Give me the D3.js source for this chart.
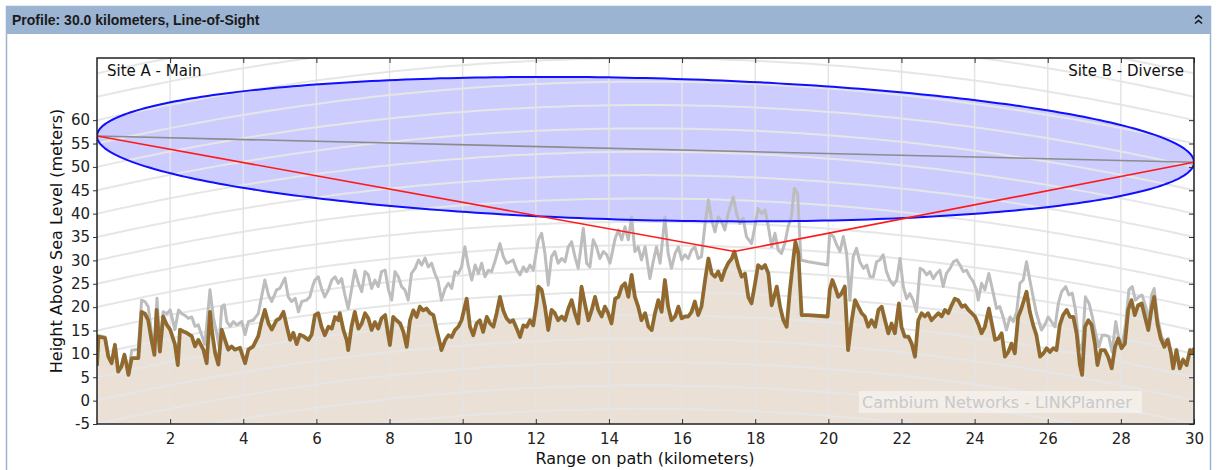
<!DOCTYPE html>
<html>
<head>
<meta charset="utf-8">
<script src="https://cdn.jsdelivr.net/npm/d3@7"></script>
<style>
  body { margin: 0; background: #fff; }
  svg { display: block; font-family: "DejaVu Sans", sans-serif; }
</style>
</head>
<body>
<svg id="chart" width="1221" height="470"></svg>
<script>
// ---- Link and profile data ----
const panelTitle = "Profile: 30.0 kilometers, Line-of-Sight";
const siteNames = ["Site A - Main", "Site B - Diverse"];
const axisTitles = { x: "Range on path (kilometers)", y: "Height Above Sea Level (meters)" };
const watermarkText = "Cambium Networks - LINKPlanner";

const pathLengthKm = 30;
const xTickValues = [2, 4, 6, 8, 10, 12, 14, 16, 18, 20, 22, 24, 26, 28, 30];
const yTickValues = [-5, 0, 5, 10, 15, 20, 25, 30, 35, 40, 45, 50, 55, 60];

// antenna heights (m) at each end and the worst-case obstruction point [km, m]
const antennaHeights = [56.6, 51.0];
const obstructionPoint = [17.43, 31.9];
// first Fresnel zone radius at mid-path (m)
const fresnelMidRadius = 15.2;
// effective earth radius factor and earth radius (km)
const kFactor = 4 / 3;
const earthRadiusKm = 6371;

// terrain profile [km, m]
const terrain = [
  [0,7.5],[0.04,13.7],[0.22,13.4],[0.31,9.4],[0.40,8.0],[0.49,11.9],[0.58,6.2],[0.67,7.3],[0.75,9.8],[0.81,7.6],
  [0.86,5.5],[0.95,9.1],[1.13,9.1],[1.22,19.0],[1.31,18.6],[1.40,17.2],[1.49,13.0],[1.57,9.8],[1.63,19.4],[1.72,10.5],
  [1.81,18.0],[1.91,16.2],[2.00,15.2],[2.13,12.1],[2.21,7.6],[2.27,15.2],[2.36,14.8],[2.45,14.5],[2.59,13.8],[2.68,11.6],
  [2.77,13.0],[2.91,10.9],[3.00,8.0],[3.09,19.0],[3.15,14.5],[3.23,10.2],[3.32,7.7],[3.41,15.2],[3.50,13.0],[3.59,10.9],
  [3.68,11.6],[3.77,10.9],[3.91,11.3],[4.05,8.0],[4.14,10.9],[4.27,11.6],[4.41,13.8],[4.50,16.9],[4.59,19.4],[4.69,16.5],
  [4.78,15.2],[4.91,17.2],[5.00,17.6],[5.10,19.0],[5.19,15.9],[5.28,13.0],[5.37,14.5],[5.46,12.1],[5.55,14.1],[5.64,13.8],
  [5.78,13.0],[5.87,14.1],[5.96,18.3],[6.05,18.7],[6.14,15.8],[6.23,14.0],[6.33,15.8],[6.42,15.4],[6.51,17.9],[6.60,17.2],
  [6.64,18.7],[6.74,15.1],[6.83,12.9],[6.87,10.8],[6.96,15.8],[7.05,19.0],[7.15,15.4],[7.24,16.5],[7.33,18.7],[7.42,17.6],
  [7.51,15.1],[7.60,16.8],[7.69,15.4],[7.78,17.6],[7.88,18.3],[7.95,14.7],[8.01,11.9],[8.10,17.9],[8.19,17.2],[8.29,16.5],
  [8.38,14.7],[8.47,11.5],[8.56,17.2],[8.65,19.3],[8.74,17.9],[8.83,20.1],[8.92,19.3],[9.01,19.7],[9.11,18.7],[9.20,18.3],
  [9.29,15.1],[9.38,12.2],[9.42,10.8],[9.52,12.9],[9.61,14.0],[9.70,13.6],[9.79,15.1],[9.88,15.8],[9.97,17.2],[10.11,21.8],
  [10.20,15.8],[10.29,14.0],[10.38,16.5],[10.47,17.2],[10.56,14.7],[10.66,17.9],[10.75,16.5],[10.84,15.8],[10.93,18.7],[11.02,22.2],
  [11.11,19.3],[11.20,17.6],[11.29,16.8],[11.38,17.2],[11.48,15.4],[11.57,13.6],[11.66,16.1],[11.75,15.8],[11.84,17.2],[11.93,16.1],
  [12.02,20.8],[12.07,24.4],[12.16,23.7],[12.25,20.1],[12.34,15.1],[12.43,19.4],[12.52,18.7],[12.61,17.2],[12.71,18.0],[12.80,17.2],
  [12.89,19.7],[12.98,21.5],[13.07,18.7],[13.16,16.5],[13.25,24.4],[13.34,20.8],[13.44,17.2],[13.53,19.4],[13.62,22.2],[13.71,19.4],
  [13.80,18.0],[13.89,20.1],[13.98,18.7],[14.07,16.5],[14.17,21.8],[14.26,22.2],[14.35,24.4],[14.44,25.1],[14.53,22.2],[14.62,26.9],
  [14.71,22.2],[14.80,20.1],[14.89,17.2],[14.99,18.7],[15.08,15.8],[15.17,15.1],[15.26,18.7],[15.35,21.5],[15.44,19.0],[15.53,25.8],
  [15.62,20.1],[15.71,17.2],[15.81,18.0],[15.90,20.1],[15.99,17.6],[16.08,18.0],[16.17,18.0],[16.26,19.0],[16.35,21.2],[16.44,18.3],
  [16.53,20.1],[16.63,25.8],[16.72,30.4],[16.81,27.2],[16.90,26.5],[16.99,27.6],[17.08,25.8],[17.17,27.9],[17.26,29.4],[17.36,30.4],
  [17.43,31.9],[17.54,28.6],[17.63,26.5],[17.72,27.2],[17.81,22.2],[17.90,20.8],[17.99,24.8],[18.08,29.0],[18.18,28.3],[18.27,29.0],
  [18.36,27.2],[18.45,20.4],[18.54,22.9],[18.59,24.4],[18.68,20.1],[18.77,17.2],[18.86,15.8],[18.95,23.7],[19.04,30.1],[19.10,34.0],
  [19.18,31.5],[19.27,18.3],[19.45,18.3],[19.98,18.0],[20.04,23.7],[20.11,25.8],[20.18,24.4],[20.27,22.2],[20.36,22.9],[20.45,24.4],
  [20.54,10.8],[20.64,17.2],[20.73,21.5],[20.82,20.1],[20.91,18.7],[21.00,18.0],[21.09,15.8],[21.18,17.2],[21.28,15.8],[21.37,19.4],
  [21.46,20.1],[21.55,17.2],[21.64,14.4],[21.73,16.5],[21.82,14.4],[21.93,20.8],[22.00,15.8],[22.09,13.7],[22.19,13.7],[22.28,12.2],
  [22.37,9.4],[22.46,17.2],[22.55,18.7],[22.64,18.0],[22.73,18.7],[22.82,17.2],[22.92,18.0],[23.01,18.7],[23.10,18.0],[23.19,19.4],
  [23.28,18.7],[23.37,20.4],[23.46,21.8],[23.55,21.5],[23.65,20.1],[23.74,20.4],[23.83,19.4],[23.92,18.7],[24.01,18.0],[24.10,16.4],
  [24.19,14.4],[24.28,15.8],[24.39,19.7],[24.46,16.9],[24.56,13.0],[24.65,13.3],[24.74,14.4],[24.83,9.4],[24.92,10.4],[25.01,12.2],
  [25.10,10.1],[25.19,17.9],[25.28,19.7],[25.42,23.3],[25.51,19.0],[25.60,16.2],[25.69,14.0],[25.79,9.4],[25.88,10.1],[25.97,11.2],
  [26.06,10.4],[26.15,11.2],[26.24,10.8],[26.33,16.2],[26.42,18.3],[26.52,19.4],[26.61,17.9],[26.70,17.9],[26.79,14.4],[26.88,7.6],
  [26.94,5.5],[27.02,15.8],[27.11,17.2],[27.20,16.2],[27.29,12.2],[27.36,7.6],[27.45,10.8],[27.56,10.8],[27.65,9.4],[27.75,6.9],
  [27.84,11.5],[27.93,13.3],[28.02,11.2],[28.11,12.2],[28.20,19.4],[28.29,21.5],[28.38,18.3],[28.47,20.4],[28.57,20.8],[28.66,17.9],
  [28.75,15.1],[28.84,19.7],[28.91,22.2],[29.00,16.5],[29.09,13.3],[29.19,11.5],[29.28,13.0],[29.37,10.1],[29.43,6.9],[29.52,10.8],
  [29.61,6.9],[29.70,8.7],[29.80,7.6],[29.89,10.8],[29.98,10.1],[30.00,11.2]
];

// terrain plus trees and buildings [km, m]
const obstructions = [
  [0,7.5],[0.04,13.9],[0.22,13.6],[0.31,9.6],[0.40,8.2],[0.49,12.1],[0.58,6.4],[0.67,7.5],[0.75,10.0],[0.81,7.8],
  [0.86,6.0],[0.95,10.8],[1.13,11.0],[1.22,21.5],[1.31,21.2],[1.40,20.1],[1.49,14.5],[1.57,11.0],[1.64,21.9],[1.72,12.0],
  [1.81,19.0],[1.91,18.6],[2.00,19.4],[2.13,15.2],[2.23,19.4],[2.32,18.6],[2.41,18.2],[2.50,17.6],[2.59,17.9],[2.68,15.9],
  [2.77,16.2],[2.86,14.1],[2.95,12.0],[3.09,23.7],[3.18,17.9],[3.27,14.5],[3.34,11.5],[3.41,20.1],[3.48,20.5],[3.55,16.9],
  [3.64,15.9],[3.73,16.9],[3.82,16.2],[3.96,16.9],[4.05,14.1],[4.14,16.9],[4.27,17.2],[4.41,18.6],[4.50,22.2],[4.59,25.8],
  [4.69,22.6],[4.78,21.2],[4.91,23.7],[5.00,24.0],[5.14,26.2],[5.23,22.2],[5.32,21.2],[5.42,21.9],[5.51,19.0],[5.60,21.2],
  [5.73,21.5],[5.82,22.2],[5.91,24.8],[5.96,25.8],[6.05,26.5],[6.14,24.0],[6.23,22.2],[6.33,23.7],[6.42,25.8],[6.51,26.5],
  [6.60,25.1],[6.69,26.1],[6.78,22.6],[6.87,19.7],[6.96,23.7],[7.05,27.9],[7.15,25.1],[7.24,23.3],[7.33,27.6],[7.42,26.9],
  [7.51,24.0],[7.60,25.8],[7.69,24.4],[7.78,27.6],[7.88,27.9],[7.97,23.7],[8.06,21.5],[8.15,27.6],[8.24,26.5],[8.33,24.4],
  [8.42,23.7],[8.51,21.5],[8.60,27.2],[8.70,28.3],[8.79,30.1],[8.88,29.0],[8.97,30.5],[9.06,28.6],[9.15,29.4],[9.24,27.2],
  [9.33,25.5],[9.42,21.5],[9.52,24.0],[9.61,25.1],[9.70,24.0],[9.79,27.6],[9.88,27.2],[9.97,28.6],[10.06,32.9],[10.15,29.0],
  [10.25,25.8],[10.34,29.0],[10.43,27.2],[10.52,29.4],[10.61,26.5],[10.70,27.9],[10.79,27.6],[10.88,29.7],[11.02,33.6],[11.11,30.8],
  [11.20,29.4],[11.29,29.7],[11.38,30.1],[11.48,27.9],[11.57,26.9],[11.66,28.6],[11.75,27.6],[11.84,29.0],[11.93,27.9],[12.07,34.4],
  [12.16,35.8],[12.25,31.5],[12.34,24.7],[12.43,30.8],[12.52,31.9],[12.61,29.4],[12.71,30.4],[12.80,29.7],[12.89,32.9],[12.98,34.0],
  [13.07,30.8],[13.16,28.3],[13.30,36.9],[13.39,29.4],[13.48,28.6],[13.57,34.4],[13.66,32.9],[13.75,30.4],[13.85,31.9],[13.94,31.2],
  [14.03,29.4],[14.17,34.7],[14.26,36.5],[14.35,34.4],[14.44,37.2],[14.53,34.4],[14.62,39.3],[14.71,31.9],[14.80,32.9],[14.89,30.1],
  [14.99,32.9],[15.12,26.1],[15.21,29.7],[15.30,32.9],[15.40,29.4],[15.53,39.3],[15.62,31.5],[15.71,28.3],[15.81,31.5],[15.90,32.9],
  [15.99,30.1],[16.08,31.2],[16.17,30.4],[16.26,32.2],[16.35,32.9],[16.44,30.4],[16.53,30.8],[16.63,37.9],[16.72,42.9],[16.81,38.6],
  [16.90,36.1],[16.99,39.3],[17.08,38.3],[17.17,36.5],[17.26,40.0],[17.40,43.6],[17.49,40.0],[17.58,37.9],[17.67,39.0],[17.76,35.1],
  [17.90,33.6],[17.99,37.2],[18.08,41.1],[18.18,40.0],[18.27,40.8],[18.36,37.2],[18.45,32.9],[18.54,35.8],[18.63,32.2],[18.72,31.5],
  [18.81,33.6],[18.90,37.2],[18.99,39.3],[19.07,45.4],[19.16,44.3],[19.25,30.1],[19.45,29.7],[19.98,29.0],[20.04,35.8],[20.14,35.1],
  [20.23,33.3],[20.32,31.9],[20.41,35.1],[20.50,31.5],[20.59,21.5],[20.68,30.8],[20.77,32.6],[20.86,29.7],[20.96,28.3],[21.05,29.0],
  [21.14,26.5],[21.23,26.5],[21.32,29.7],[21.41,30.1],[21.50,31.2],[21.59,27.6],[21.68,25.8],[21.78,24.7],[21.87,25.8],[21.96,30.4],
  [22.05,24.4],[22.14,21.8],[22.23,22.9],[22.32,21.5],[22.41,19.0],[22.51,28.3],[22.60,27.9],[22.69,26.9],[22.78,27.6],[22.87,26.1],
  [22.96,27.2],[23.05,27.9],[23.14,24.4],[23.23,27.2],[23.33,28.3],[23.42,29.7],[23.51,30.1],[23.60,29.0],[23.69,27.6],[23.78,27.9],
  [23.87,26.5],[23.96,25.5],[24.05,23.7],[24.10,21.5],[24.19,25.1],[24.28,23.7],[24.39,27.2],[24.51,23.0],[24.60,19.7],[24.69,20.1],
  [24.78,17.9],[24.87,15.1],[24.97,17.9],[25.06,16.9],[25.15,19.0],[25.24,25.1],[25.33,25.8],[25.42,29.7],[25.51,25.8],[25.60,22.2],
  [25.69,18.7],[25.83,15.1],[25.92,16.2],[26.01,17.9],[26.10,16.9],[26.20,15.8],[26.29,20.8],[26.38,23.3],[26.49,24.4],[26.58,22.6],
  [26.67,23.0],[26.76,19.4],[26.85,12.2],[26.94,10.8],[27.03,22.2],[27.13,20.8],[27.22,17.9],[27.31,14.4],[27.40,11.5],[27.49,14.0],
  [27.58,14.0],[27.67,13.7],[27.76,10.4],[27.86,16.9],[27.95,13.0],[28.04,12.0],[28.13,16.5],[28.22,23.7],[28.31,24.4],[28.40,21.5],
  [28.49,22.2],[28.58,22.6],[28.68,20.1],[28.77,16.9],[28.84,22.6],[28.91,24.0],[29.00,17.9],[29.11,13.7],[29.20,12.6],[29.30,13.3],
  [29.37,10.4],[29.43,7.2],[29.52,11.0],[29.61,7.2],[29.70,9.0],[29.80,7.9],[29.89,11.0],[29.98,10.4],[30.00,11.4]
];

// ---- Layout ----
const svg = d3.select("#chart");
const W = 1221, H = 470;
const plot = { left: 97, right: 1194, top: 58, bottom: 424 };

const x = d3.scaleLinear().domain([0, pathLengthKm]).range([plot.left, plot.right]);
const y = d3.scaleLinear().domain([-5, 73.3]).range([plot.bottom, plot.top]);

// earth bulge (m) at distance d (km) along the path
const bulge = d => d * (pathLengthKm - d) * 1000 / (2 * kFactor * earthRadiusKm);

// ---- Panel frame and header ----
svg.append("rect").attr("x", 6.5).attr("y", 6.5).attr("width", 1204).attr("height", H)
  .attr("fill", "#fff").attr("stroke", "#9bb4d1").attr("stroke-width", 1.5);
svg.append("rect").attr("x", 6).attr("y", 6).attr("width", 1205).attr("height", 28).attr("fill", "#9bb4d1");
svg.append("text").attr("x", 12).attr("y", 25)
  .attr("font-family", "'Liberation Sans', Arial, sans-serif").attr("font-weight", "bold")
  .attr("font-size", 14).attr("fill", "#1a1a1a").text(panelTitle);
// collapse chevrons
const chev = svg.append("g").attr("fill", "none").attr("stroke", "#111").attr("stroke-width", 1.6);
[15.5, 20.5].forEach(cy => chev.append("path").attr("d", `M1195,${cy + 3} L1198.5,${cy} L1202,${cy + 3}`));

// ---- Plot area ----
svg.append("defs").append("clipPath").attr("id", "plotClip")
  .append("rect").attr("x", plot.left).attr("y", plot.top)
  .attr("width", plot.right - plot.left).attr("height", plot.bottom - plot.top);
const g = svg.append("g").attr("clip-path", "url(#plotClip)");

g.append("rect").attr("x", plot.left).attr("y", plot.top)
  .attr("width", plot.right - plot.left).attr("height", plot.bottom - plot.top).attr("fill", "#fff");

// ground fill under the terrain line
g.append("path").datum(terrain)
  .attr("d", d3.area().x(d => x(d[0])).y0(plot.bottom).y1(d => y(d[1])))
  .attr("fill", "#eae0d6");

// first Fresnel zone ellipse around the line of sight
const losAt = d => antennaHeights[0] + (antennaHeights[1] - antennaHeights[0]) * d / pathLengthKm;
const ellipsePts = d3.range(0, 361, 1).map(a => {
  const t = a * Math.PI / 180;
  const d = pathLengthKm / 2 * (1 - Math.cos(t));
  return [d, losAt(d) + fresnelMidRadius * Math.sin(t)];
});
const ellipseLine = d3.line().x(d => x(d[0])).y(d => y(d[1]));
g.append("path").attr("d", ellipseLine(ellipsePts) + "Z").attr("fill", "rgba(0,0,255,0.2)");

// curved height grid following the earth bulge
const gridKm = d3.range(0, pathLengthKm + 0.001, 0.25);
d3.range(-20, 85, 5).forEach(h => {
  g.append("path").datum(gridKm.map(d => [d, h + bulge(d)]))
    .attr("d", d3.line().x(d => x(d[0])).y(d => y(d[1])))
    .attr("fill", "none").attr("stroke", "#e6e6e6").attr("stroke-width", 2);
});
// vertical range grid
g.selectAll(".vgrid").data(xTickValues).join("line")
  .attr("x1", d => x(d)).attr("x2", d => x(d)).attr("y1", plot.top).attr("y2", plot.bottom)
  .attr("stroke", "#e4e4e4").attr("stroke-width", 1.5);

// obstruction (terrain plus clutter) profile
const profileLine = d3.line().x(d => x(d[0])).y(d => y(d[1]));
g.append("path").datum(obstructions).attr("d", profileLine)
  .attr("fill", "none").attr("stroke", "#bdbdbd").attr("stroke-width", 3).attr("stroke-linejoin", "round");

// terrain profile
g.append("path").datum(terrain).attr("d", profileLine)
  .attr("fill", "none").attr("stroke", "#7a7a3c").attr("stroke-width", 3.8).attr("stroke-linejoin", "round");
g.append("path").datum(terrain).attr("d", profileLine)
  .attr("fill", "none").attr("stroke", "#9b642d").attr("stroke-width", 2.4).attr("stroke-linejoin", "round");

// Fresnel zone outline
g.append("path").attr("d", ellipseLine(ellipsePts) + "Z")
  .attr("fill", "none").attr("stroke", "#1010ff").attr("stroke-width", 2);

// line of sight
g.append("line")
  .attr("x1", x(0)).attr("y1", y(antennaHeights[0]))
  .attr("x2", x(pathLengthKm)).attr("y2", y(antennaHeights[1]))
  .attr("stroke", "#8c8c8c").attr("stroke-width", 1.6);

// path over the worst obstruction
g.append("path").datum([[0, antennaHeights[0]], obstructionPoint, [pathLengthKm, antennaHeights[1]]])
  .attr("d", profileLine).attr("fill", "none").attr("stroke", "#ff1a1a").attr("stroke-width", 1.6);

// watermark
const wm = g.append("g");
wm.append("rect").attr("x", 859).attr("y", 391).attr("width", 283).attr("height", 22)
  .attr("fill", "rgba(255,255,255,0.45)");
wm.append("text").attr("x", 862).attr("y", 408).attr("font-size", 16).attr("fill", "#c9c9c9").text(watermarkText);

// ---- Axes ----
const yAxis = d3.axisLeft(y).tickValues(yTickValues).tickSize(4).tickPadding(3).tickFormat(d => String(d));
const yAx = svg.append("g").attr("transform", `translate(${plot.left},0)`).call(yAxis);
const yAxRight = svg.append("g").attr("transform", `translate(${plot.right},0)`)
  .call(d3.axisLeft(y).tickValues(yTickValues).tickSize(5).tickFormat(""));
const xAx = svg.append("g").attr("transform", `translate(0,${plot.bottom})`)
  .call(d3.axisBottom(x).tickValues(xTickValues).tickSize(-5).tickPadding(9).tickFormat(d => String(d)));
const xAxTop = svg.append("g").attr("transform", `translate(0,${plot.top})`)
  .call(d3.axisTop(x).tickValues(xTickValues).tickSize(-5).tickFormat(""));

[yAx, yAxRight, xAx, xAxTop].forEach(a => {
  a.select(".domain").remove();
  a.selectAll(".tick line").attr("stroke", "#333").attr("stroke-width", 1);
  a.selectAll("text").attr("font-family", "'DejaVu Sans', sans-serif").attr("font-size", 15).attr("fill", "#222");
});

// plot frame
svg.append("rect").attr("x", plot.left).attr("y", plot.top)
  .attr("width", plot.right - plot.left).attr("height", plot.bottom - plot.top)
  .attr("fill", "none").attr("stroke", "#222").attr("stroke-width", 1.5);

// site labels
svg.append("text").attr("x", 107).attr("y", 76).attr("font-size", 15).attr("fill", "#111").text(siteNames[0]);
svg.append("text").attr("x", 1184).attr("y", 76).attr("text-anchor", "end").attr("font-size", 15).attr("fill", "#111").text(siteNames[1]);

// axis titles
svg.append("text").attr("x", (plot.left + plot.right) / 2 - 0.5).attr("y", 464)
  .attr("text-anchor", "middle").attr("font-size", 16).attr("fill", "#111").text(axisTitles.x);
svg.append("text").attr("transform", `translate(62,${(plot.top + plot.bottom) / 2}) rotate(-90)`)
  .attr("text-anchor", "middle").attr("font-size", 16).attr("fill", "#111").text(axisTitles.y);
</script>
</body>
</html>
